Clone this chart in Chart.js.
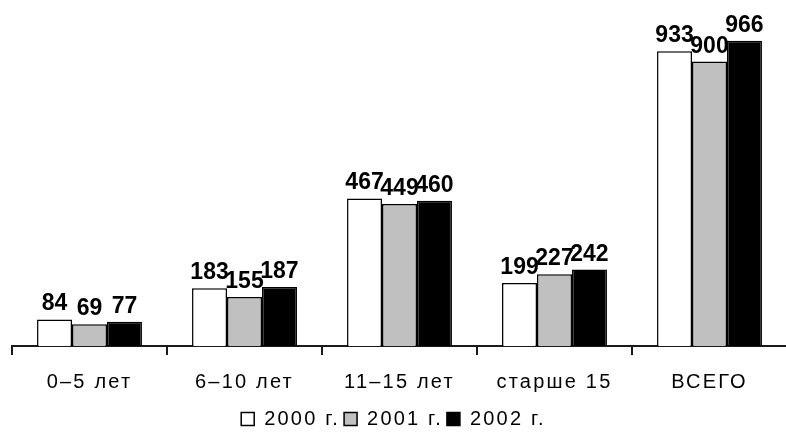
<!DOCTYPE html>
<html>
<head>
<meta charset="utf-8">
<script src="https://cdn.jsdelivr.net/npm/chart.js@4/dist/chart.umd.min.js"></script>
<style>
  html, body { margin: 0; padding: 0; background: #fff; overflow: hidden; }
  #wrap { width: 790px; height: 447px; position: relative; }
</style>
</head>
<body>
<div id="wrap"><canvas id="chart"></canvas></div>
<script>
// Age groups and yearly counts
const categories = ['0–5 лет', '6–10 лет', '11–15 лет', 'старше 15', 'ВСЕГО'];
const seriesNames = ['2000 г.', '2001 г.', '2002 г.'];
const values2000 = [84, 183, 467, 199, 933];
const values2001 = [69, 155, 449, 227, 900];
const values2002 = [77, 187, 460, 242, 966];
const yMax = 1000;

const FONT = 'Liberation Sans, Arial, sans-serif';
const TRACKING = '2.2px';

// Wider tracking for the axis and legend text
const spacingPlugin = {
  id: 'spacing',
  beforeLayout(chart) { chart.ctx.letterSpacing = TRACKING; },
  afterLayout(chart) {
    // pull the legend row a little left and up, closer to the axis labels
    const lg = chart.legend;
    if (lg) { lg.left -= 6; lg.right -= 6; lg.top -= 4; lg.bottom -= 4; }
  },
  beforeDraw(chart) { chart.ctx.letterSpacing = TRACKING; }
};

// Value labels above every bar
const valueLabels = {
  id: 'valueLabels',
  afterDatasetsDraw(chart) {
    const ctx = chart.ctx;
    ctx.save();
    ctx.letterSpacing = '0px';
    ctx.font = 'bold 23px ' + FONT;
    ctx.fillStyle = '#000';
    ctx.textAlign = 'center';
    ctx.textBaseline = 'alphabetic';
    chart.data.datasets.forEach((ds, i) => {
      const meta = chart.getDatasetMeta(i);
      meta.data.forEach((bar, j) => {
        ctx.fillText(String(ds.data[j]), bar.x, bar.y - 9);
      });
    });
    ctx.restore();
  }
};

new Chart(document.getElementById('chart'), {
  type: 'bar',
  data: {
    labels: categories,
    datasets: [
      { label: seriesNames[0], data: values2000, backgroundColor: '#ffffff' },
      { label: seriesNames[1], data: values2001, backgroundColor: '#c0c0c0' },
      { label: seriesNames[2], data: values2002, backgroundColor: '#000000' }
    ].map(d => Object.assign(d, {
      borderColor: '#000', borderWidth: 1.5,
      categoryPercentage: 0.677, barPercentage: 1.0
    }))
  },
  options: {
    responsive: true,
    maintainAspectRatio: false,
    animation: false,
    layout: { padding: { left: 12, right: 3, top: 30, bottom: 4 } },
    scales: {
      y: { display: false, min: 0, max: yMax },
      x: {
        grid: { offset: true, drawOnChartArea: false, drawTicks: true, tickLength: 9, color: '#1a1a1a', lineWidth: 2 },
        border: { display: true, color: '#1a1a1a', width: 2 },
        ticks: { color: '#000', font: { family: FONT, size: 20 }, padding: 15, maxRotation: 0, autoSkip: false }
      }
    },
    plugins: {
      legend: {
        position: 'bottom',
        labels: {
          boxWidth: 13, boxHeight: 13, padding: 4,
          color: '#000', font: { family: FONT, size: 20 }
        }
      },
      tooltip: { enabled: false }
    }
  },
  plugins: [spacingPlugin, valueLabels]
});
</script>
</body>
</html>
